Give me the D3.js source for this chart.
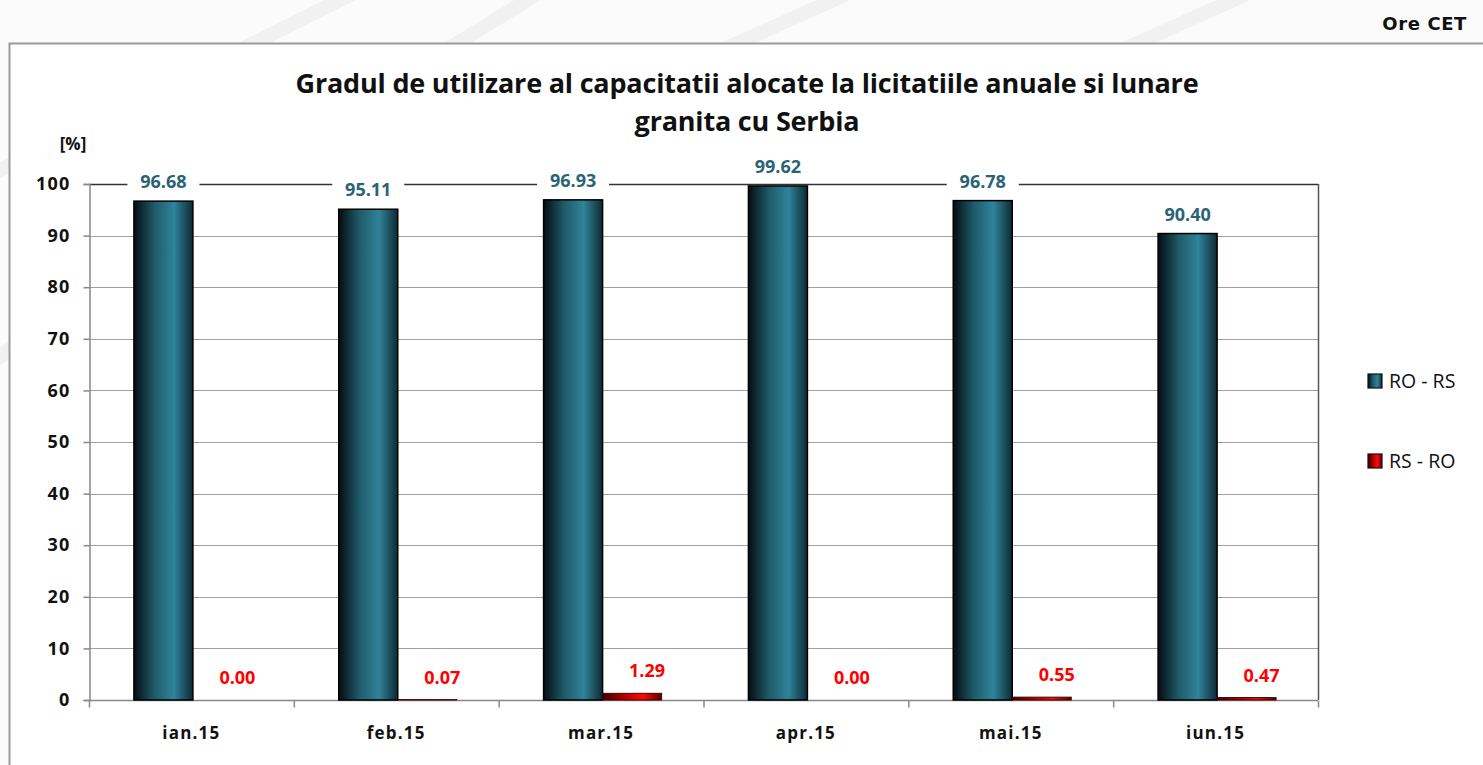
<!DOCTYPE html>
<html>
<head>
<meta charset="utf-8">
<script src="https://cdn.jsdelivr.net/npm/d3@7"></script>
<style>
  html, body { margin: 0; padding: 0; background: #fff; }
  svg { display: block; }
</style>
</head>
<body>
<svg id="chart" width="1483" height="765"></svg>
<script>
const months = ["ian.15", "feb.15", "mar.15", "apr.15", "mai.15", "iun.15"];
const roRs = [96.68, 95.11, 96.93, 99.62, 96.78, 90.40];
const rsRo = [0.00, 0.07, 1.29, 0.00, 0.55, 0.47];
const seriesNames = ["RO - RS", "RS - RO"];
const yTicks = [0, 10, 20, 30, 40, 50, 60, 70, 80, 90, 100];
const titleLines = ["Gradul de utilizare al capacitatii alocate la licitatiile anuale si lunare", "granita cu Serbia"];

const svg = d3.select("#chart");
const W = 1483, H = 765;
const plot = { left: 89, right: 1318, top: 184, bottom: 700 };
const font = "'Open Sans', Lato, sans-serif";

const defs = svg.append("defs");
// cylinder-ish shading like the excel bars
const gradTeal = defs.append("linearGradient").attr("id", "gTeal");
gradTeal.append("stop").attr("offset", "0%").attr("stop-color", "#050d10");
gradTeal.append("stop").attr("offset", "35%").attr("stop-color", "#1f5b6a");
gradTeal.append("stop").attr("offset", "68%").attr("stop-color", "#2f8399");
gradTeal.append("stop").attr("offset", "100%").attr("stop-color", "#0d2a33");
const gradRed = defs.append("linearGradient").attr("id", "gRed");
gradRed.append("stop").attr("offset", "0%").attr("stop-color", "#3a0000");
gradRed.append("stop").attr("offset", "40%").attr("stop-color", "#c00000");
gradRed.append("stop").attr("offset", "68%").attr("stop-color", "#ff0a0a");
gradRed.append("stop").attr("offset", "100%").attr("stop-color", "#5a0000");

// page background with faint streaks
svg.append("rect").attr("width", W).attr("height", H).attr("fill", "#fbfbfb");
[[-60, 200, 420, -40], [40, 300, 560, -20], [-80, 420, 300, 120], [700, 60, 900, -30], [1100, 60, 1300, -30]].forEach(s => {
  svg.append("line").attr("x1", s[0]).attr("y1", s[1]).attr("x2", s[2]).attr("y2", s[3])
    .attr("stroke", "#ececec").attr("stroke-width", 14).attr("opacity", 0.6);
});

// chart frame
svg.append("rect").attr("x", 9.5).attr("y", 43.5).attr("width", W).attr("height", H)
  .attr("fill", "#fff").attr("stroke", "#9a9a9a").attr("stroke-width", 2);

svg.append("text").attr("x", 1467).attr("y", 30).attr("text-anchor", "end")
  .attr("font-family", "'DejaVu Sans', Verdana, sans-serif").attr("font-weight", "bold")
  .attr("font-size", 18).attr("letter-spacing", 0.6).attr("fill", "#111").text("Ore CET");

// title
svg.append("text").attr("x", 747).attr("y", 93).attr("text-anchor", "middle")
  .attr("font-family", font).attr("font-weight", "bold").attr("font-size", 27).attr("fill", "#111")
  .attr("letter-spacing", -0.2)
  .selectAll("tspan").data(titleLines).join("tspan")
  .attr("x", 747).attr("dy", (d, i) => i ? 38 : 0).text(d => d);

const x = d3.scaleBand().domain(months).range([plot.left, plot.right]).paddingInner(0).paddingOuter(0);
const y = d3.scaleLinear().domain([0, 100]).range([plot.bottom, plot.top]);
const barW = 59;

// gridlines
svg.append("g").selectAll("line").data(yTicks.filter(d => d > 0 && d < 100)).join("line")
  .attr("x1", plot.left).attr("x2", plot.right)
  .attr("y1", d => Math.round(y(d)) + 0.5).attr("y2", d => Math.round(y(d)) + 0.5)
  .attr("stroke", "#a0a0a0").attr("stroke-width", 1.2);

// plot border top/right
svg.append("line").attr("x1", plot.left).attr("x2", plot.right).attr("y1", plot.top + 0.5).attr("y2", plot.top + 0.5)
  .attr("stroke", "#333").attr("stroke-width", 1.5);
svg.append("line").attr("x1", plot.right + 0.5).attr("x2", plot.right + 0.5).attr("y1", plot.top).attr("y2", plot.bottom)
  .attr("stroke", "#555").attr("stroke-width", 1.5);

// y axis
const yAxis = svg.append("g").attr("transform", `translate(${plot.left + 0.5},0)`)
  .call(d3.axisLeft(y).tickValues(yTicks).tickSize(6).tickPadding(13));
yAxis.select(".domain").attr("stroke", "#888").attr("stroke-width", 1.5);
yAxis.selectAll(".tick line").attr("stroke", "#888").attr("stroke-width", 1.5);
yAxis.selectAll(".tick text").attr("font-family", font).attr("font-weight", "bold")
  .attr("font-size", 18).attr("letter-spacing", 1.2).attr("fill", "#111");

svg.append("text").attr("x", 73).attr("y", 150).attr("text-anchor", "middle")
  .attr("font-family", font).attr("font-weight", "bold").attr("font-size", 17).attr("fill", "#111").text("[%]");

// x axis
const xg = svg.append("g").attr("transform", `translate(0,${plot.bottom + 0.5})`);
xg.append("line").attr("x1", plot.left).attr("x2", plot.right).attr("stroke", "#888").attr("stroke-width", 1.5);
xg.selectAll("line.tk").data(months.concat(["end"])).join("line").attr("class", "tk")
  .attr("x1", (d, i) => plot.left + i * x.bandwidth() + 0.5).attr("x2", (d, i) => plot.left + i * x.bandwidth() + 0.5)
  .attr("y1", 0).attr("y2", 7).attr("stroke", "#888").attr("stroke-width", 1.5);
xg.selectAll("text").data(months).join("text")
  .attr("x", d => x(d) + x.bandwidth() / 2).attr("y", 38).attr("text-anchor", "middle")
  .attr("font-family", font).attr("font-weight", "bold").attr("font-size", 17).attr("letter-spacing", 1.2)
  .attr("fill", "#111").text(d => d);

// bars
const cx = d => x(d) + x.bandwidth() / 2 + 1.5;
svg.append("g").selectAll("rect").data(months).join("rect")
  .attr("x", d => cx(d) - barW).attr("width", barW)
  .attr("y", (d, i) => y(roRs[i])).attr("height", (d, i) => y(0) - y(roRs[i]))
  .attr("fill", "url(#gTeal)").attr("stroke", "#000").attr("stroke-width", 1.5);
svg.append("g").selectAll("rect").data(months).join("rect")
  .attr("x", d => cx(d)).attr("width", barW)
  .attr("y", (d, i) => y(rsRo[i])).attr("height", (d, i) => y(0) - y(rsRo[i]))
  .attr("fill", "url(#gRed)").attr("stroke", (d, i) => rsRo[i] > 0 ? "#400" : "none").attr("stroke-width", 1);

// value labels
const lblTeal = svg.append("g").selectAll("g").data(months).join("g");
lblTeal.append("rect")
  .attr("x", d => cx(d) - barW / 2 - 36).attr("width", 72)
  .attr("y", (d, i) => y(roRs[i]) - 32).attr("height", 24).attr("fill", "#fff");
lblTeal.append("text")
  .attr("x", d => cx(d) - barW / 2).attr("y", (d, i) => y(roRs[i]) - 13).attr("text-anchor", "middle")
  .attr("font-family", font).attr("font-weight", "bold").attr("font-size", 18).attr("fill", "#2a6474")
  .text((d, i) => roRs[i].toFixed(2));
svg.append("g").selectAll("text").data(months).join("text")
  .attr("x", d => cx(d) + barW / 2 + 15).attr("y", (d, i) => y(rsRo[i]) - 16).attr("text-anchor", "middle")
  .attr("font-family", font).attr("font-weight", "bold").attr("font-size", 18).attr("fill", "#ff0000")
  .text((d, i) => rsRo[i].toFixed(2));

// legend
const leg = svg.append("g").selectAll("g").data(seriesNames).join("g")
  .attr("transform", (d, i) => `translate(1368,${374 + i * 80})`);
leg.append("rect").attr("width", 14).attr("height", 14)
  .attr("fill", (d, i) => i ? "url(#gRed)" : "url(#gTeal)").attr("stroke", "#111").attr("stroke-width", 1.2);
leg.append("text").attr("x", 21).attr("y", 14).attr("font-family", font).attr("font-size", 19.5)
  .attr("fill", "#111").text(d => d);
</script>
</body>
</html>
